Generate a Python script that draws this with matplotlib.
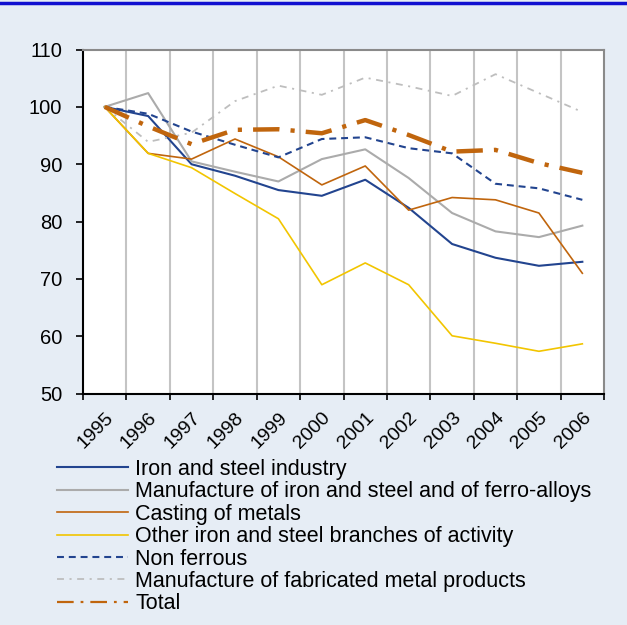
import matplotlib.pyplot as plt
from matplotlib.lines import Line2D

plt.rcParams['font.family'] = ['Liberation Sans', 'DejaVu Sans']
plt.rcParams['lines.scale_dashes'] = False

# Colours.
bg_blue = "#E6EDF5"
dark_blue = "#22448F"
mid_grey = "#ABABAB"
light_grey = "#BEBEBE"
rust = "#C0650D"
gold = "#F2C500"

years = ["1995", "1996", "1997", "1998", "1999", "2000",
         "2001", "2002", "2003", "2004", "2005", "2006"]

iron_steel = [100, 98.4, 90.0, 88.0, 85.5, 84.5, 87.3, 82.4, 76.1, 73.7, 72.3, 73.0]
ferro_alloys = [100, 102.4, 90.5, 88.7, 87.0, 90.9, 92.6, 87.6, 81.5, 78.3, 77.3, 79.3]
casting = [100, 91.9, 90.9, 94.4, 91.3, 86.4, 89.7, 82.0, 84.2, 83.8, 81.5, 71.0]
other_branches = [100, 91.9, 89.4, 84.9, 80.5, 69.0, 72.8, 69.0, 60.1, 58.8, 57.4, 58.7]
non_ferrous = [100, 98.8, 95.7, 93.4, 91.2, 94.4, 94.7, 92.8, 91.9, 86.6, 85.8, 83.8]
fabricated = [100, 93.9, 95.5, 101.0, 103.7, 102.1, 105.1, 103.6, 101.9, 105.7, 102.4, 99.1]
total = [100, 96.6, 93.5, 96.0, 96.1, 95.4, 97.7, 95.1, 92.2, 92.5, 90.2, 88.5]

series = [
    ("Iron and steel industry", iron_steel, dark_blue, 1.5, None),
    ("Manufacture of iron and steel and of ferro-alloys", ferro_alloys, mid_grey, 1.5, None),
    ("Casting of metals", casting, rust, 1.2, None),
    ("Other iron and steel branches of activity", other_branches, gold, 1.2, None),
    ("Non ferrous", non_ferrous, dark_blue, 1.5, (0, (5, 3.5))),
    ("Manufacture of fabricated metal products", fabricated, light_grey, 1.3, (0, (5, 4, 1.5, 4))),
    ("Total", total, rust, 3.2, (0, (19, 8, 3, 8))),
]

fig = plt.figure(figsize=(6.27, 6.25), dpi=100, facecolor=bg_blue)
ax = fig.add_axes([0.1324, 0.370, 0.831, 0.5508])
ax.set_facecolor("white")

x = list(range(len(years)))

# Vertical gridlines sit between the categories.
for k in range(len(years) - 1):
    ax.axvline(k + 0.5, color="#C4C4C4", linewidth=1.5, zorder=1)

handles = []
for label, values, colour, lw, style in series:
    kw = {"linestyle": style} if style else {}
    ax.plot(x, values, color=colour, linewidth=lw, zorder=3, **kw)
    if label == "Total":
        kw = {"linestyle": (0, (12, 5, 2, 5))}
    handles.append(Line2D([], [], color=colour, linewidth=1.6 if lw > 2 else lw,
                          label=label, **kw))

ax.set_xlim(-0.5, len(years) - 0.5)
ax.set_ylim(50, 110)
ax.set_yticks(range(50, 111, 10))
ax.set_xticks([k - 0.5 for k in range(len(years) + 1)])
ax.set_xticklabels([])
ax.set_xticks(x, minor=True)
ax.set_xticklabels(years, minor=True, rotation=45, ha="right",
                   rotation_mode="anchor", fontsize=14)
ax.tick_params(axis="x", which="minor", length=0, pad=11)
ax.tick_params(axis="x", which="major", length=4.5, width=1.2, direction="out")
ax.tick_params(axis="y", length=5, width=1.2, direction="out", labelsize=14.5, pad=10)

for side in ("left", "bottom"):
    ax.spines[side].set_color("black")
    ax.spines[side].set_linewidth(1.5)
for side in ("top", "right"):
    ax.spines[side].set_color("#8A8A8A")
    ax.spines[side].set_linewidth(1.5)

fig.legend(handles=handles, loc="upper left", bbox_to_anchor=(0.091, 0.2656),
           frameon=False, fontsize=15.5, handlelength=3.3, handletextpad=0.33,
           labelspacing=0.065, borderaxespad=0, borderpad=0)

# Thin blue rule along the top edge.
fig.add_artist(Line2D([0, 1], [0.995, 0.995], color="#1010D0", linewidth=2.5,
                      transform=fig.transFigure))

fig.savefig("out.png", dpi=100, facecolor=bg_blue)
